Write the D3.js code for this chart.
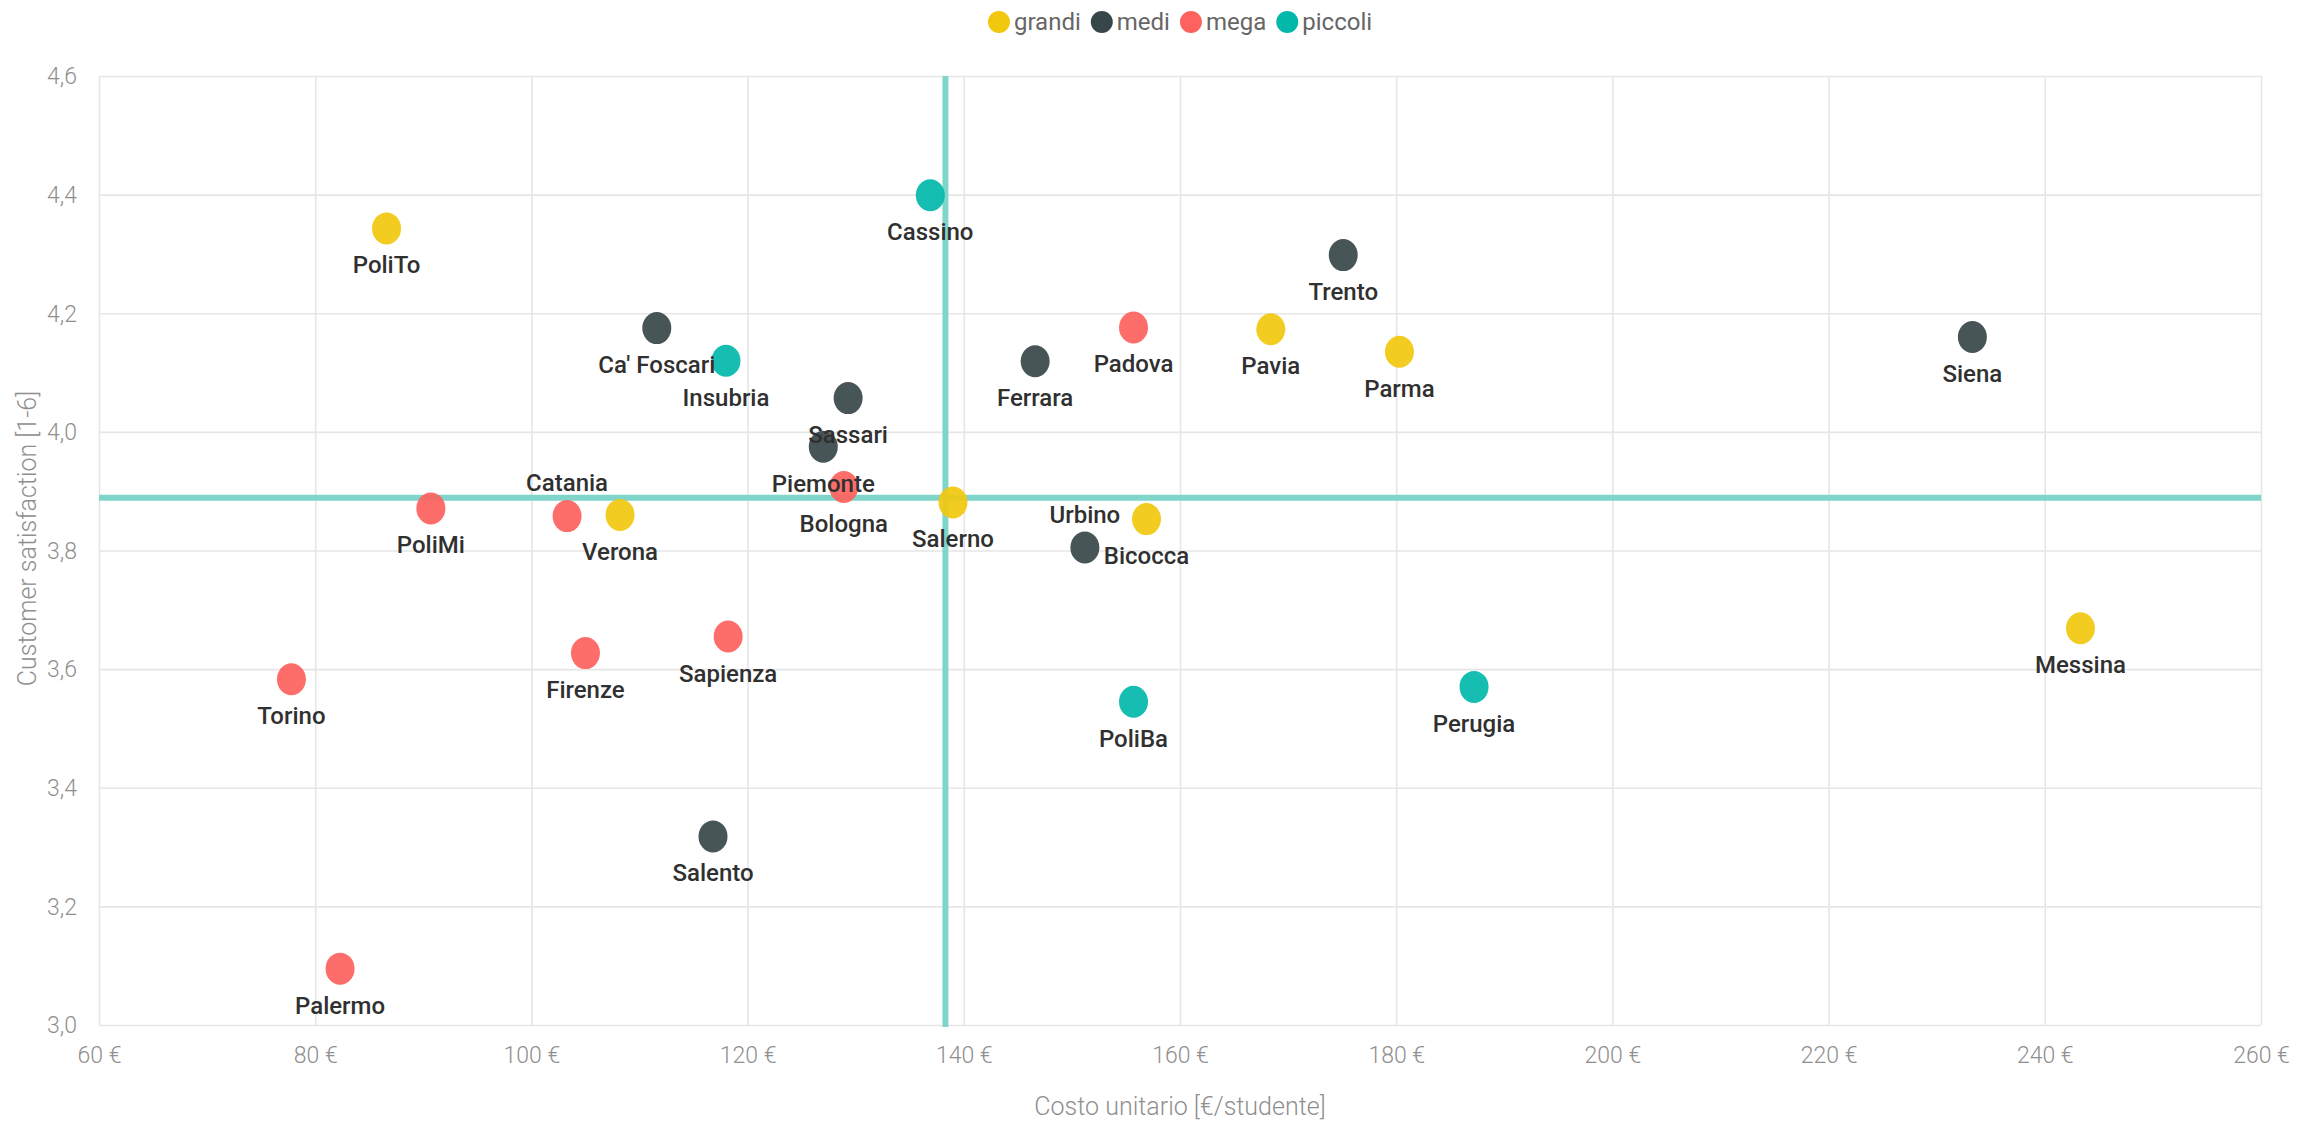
<!DOCTYPE html>
<html>
<head>
<meta charset="utf-8">
<script src="https://cdn.jsdelivr.net/npm/d3@7"></script>
<style>
  html, body { margin: 0; padding: 0; background: #ffffff; }
  svg { display: block; }
</style>
</head>
<body>
<svg id="chart" width="2320" height="1122"></svg>
<script>
// ---- data ----
const categories = ["grandi", "medi", "mega", "piccoli"];
const universities = ["PoliTo", "Cassino", "Trento", "Siena", "Ca' Foscari", "Insubria", "Padova", "Pavia", "Parma", "Ferrara", "Sassari", "Piemonte", "Bologna", "Catania", "Verona", "PoliMi", "Salerno", "Urbino", "Bicocca", "Firenze", "Sapienza", "Torino", "Messina", "PoliBa", "Perugia", "Salento", "Palermo"];
const costs = [86.6, 136.9, 175.1, 233.3, 111.6, 118.0, 155.7, 168.4, 180.3, 146.6, 129.3, 127.0, 128.9, 103.3, 108.2, 90.7, 139.0, 151.2, 156.9, 105.0, 118.2, 77.8, 243.3, 155.7, 187.2, 116.8, 82.3];
const satisfaction = [4.343, 4.399, 4.298, 4.160, 4.175, 4.120, 4.176, 4.173, 4.135, 4.119, 4.057, 3.975, 3.907, 3.858, 3.860, 3.871, 3.881, 3.805, 3.853, 3.627, 3.655, 3.583, 3.669, 3.545, 3.570, 3.318, 3.095];
const sizeClass = ["grandi", "piccoli", "medi", "medi", "medi", "piccoli", "mega", "grandi", "grandi", "medi", "medi", "medi", "mega", "mega", "grandi", "mega", "grandi", "medi", "grandi", "mega", "mega", "mega", "grandi", "piccoli", "piccoli", "medi", "mega"];
const xTicks = [60, 80, 100, 120, 140, 160, 180, 200, 220, 240, 260];
const yTicks = [3.0, 3.2, 3.4, 3.6, 3.8, 4.0, 4.2, 4.4, 4.6];
const avgCost = 138.3;
const avgSatisfaction = 3.889;
const xTitle = "Costo unitario [€/studente]";
const yTitle = "Customer satisfaction [1-6]";

// ---- layout / style config ----
const labelAbove = new Set(["Catania", "Urbino"]);
const palette = ["#F2C80F", "#374649", "#FD625E", "#01B8AA"];
const margin = { left: 99, right: 2320 - 2261, top: 76, bottom: 1122 - 1025 };
const W = 2320, H = 1122;

const svg = d3.select("#chart");
const x = d3.scaleLinear().domain([60, 260]).range([margin.left, W - margin.right]);
const y = d3.scaleLinear().domain([3.0, 4.6]).range([H - margin.bottom, margin.top]);
const color = d3.scaleOrdinal().domain(categories).range(palette);

const itLocale = d3.formatLocale({ decimal: ",", thousands: ".", grouping: [3], currency: ["", " €"] });
const fmtY = itLocale.format(".1f");
const fmtX = d => d + " €";

// gridlines via axes
const gx = svg.append("g")
  .attr("transform", `translate(0,${H - margin.bottom})`)
  .call(d3.axisBottom(x).tickValues(xTicks).tickFormat(fmtX)
    .tickSize(-(H - margin.top - margin.bottom)).tickPadding(16));
const gy = svg.append("g")
  .attr("transform", `translate(${margin.left},0)`)
  .call(d3.axisLeft(y).tickValues(yTicks).tickFormat(fmtY)
    .tickSize(-(W - margin.left - margin.right)).tickPadding(22));

[gx, gy].forEach(g => {
  g.select(".domain").remove();
  g.selectAll(".tick line").attr("stroke", "#e6e6e6").attr("stroke-width", 1.6);
  g.selectAll(".tick text")
    .attr("fill", "#8f8f8f")
    .style("font-family", "Roboto, 'Open Sans', sans-serif")
    .style("font-weight", 300)
    .style("font-size", "23px");
});
gx.selectAll(".tick text").attr("dy", "0.95em");
gy.selectAll(".tick text").attr("dy", "0.34em");

// axis titles
svg.append("text")
  .attr("x", (x.range()[0] + x.range()[1]) / 2)
  .attr("y", 1106)
  .attr("text-anchor", "middle")
  .attr("dominant-baseline", "central")
  .attr("fill", "#8f8f8f")
  .style("font-family", "Roboto, sans-serif")
  .style("font-weight", 300)
  .style("font-size", "25px")
  .text(xTitle);

svg.append("text")
  .attr("transform", `translate(27,${(y.range()[0] + y.range()[1]) / 2 - 12}) rotate(-90)`)
  .attr("text-anchor", "middle")
  .attr("dominant-baseline", "central")
  .attr("fill", "#8f8f8f")
  .style("font-family", "Roboto, sans-serif")
  .style("font-weight", 300)
  .style("font-size", "25px")
  .text(yTitle);

// reference (average) lines
const refColor = "#7fd5ca";
svg.append("line")
  .attr("x1", x(60)).attr("x2", x(260))
  .attr("y1", y(avgSatisfaction)).attr("y2", y(avgSatisfaction))
  .attr("stroke", refColor).attr("stroke-width", 6);
svg.append("line")
  .attr("x1", x(avgCost)).attr("x2", x(avgCost))
  .attr("y1", y(4.6)).attr("y2", y(3.0) + 2)
  .attr("stroke", refColor).attr("stroke-width", 6);

// points
const data = universities.map((name, i) => ({ name, cost: costs[i], sat: satisfaction[i], cls: sizeClass[i] }));

svg.append("g").selectAll("ellipse")
  .data(data)
  .join("ellipse")
  .attr("cx", d => x(d.cost))
  .attr("cy", d => y(d.sat))
  .attr("rx", 14.5)
  .attr("ry", 16)
  .attr("fill", d => color(d.cls))
  .attr("fill-opacity", 0.92);

// labels
svg.append("g").selectAll("text")
  .data(data)
  .join("text")
  .attr("x", d => x(d.cost))
  .attr("y", d => y(d.sat) + (labelAbove.has(d.name) ? -33 : 37))
  .attr("text-anchor", "middle")
  .attr("dominant-baseline", "central")
  .attr("fill", "#303030")
  .style("font-family", "Roboto, sans-serif")
  .style("font-weight", 500)
  .style("font-size", "24px")
  .text(d => d.name);

// legend
const legend = svg.append("g");
let cursor = 0;
categories.forEach(c => {
  const g = legend.append("g");
  g.append("circle").attr("cx", 11).attr("cy", 0).attr("r", 11).attr("fill", color(c));
  const t = g.append("text")
    .attr("x", 26).attr("y", 0)
    .attr("dominant-baseline", "central")
    .attr("fill", "#666666")
    .style("font-family", "Roboto, sans-serif")
    .style("font-weight", 400)
    .style("font-size", "24px")
    .text(c);
  const w = 26 + t.node().getComputedTextLength();
  g.attr("transform", `translate(${cursor},0)`);
  cursor += w + 10;
});
const legendW = cursor - 10;
legend.attr("transform", `translate(${(x.range()[0] + x.range()[1]) / 2 - legendW / 2},22)`);
</script>
</body>
</html>
